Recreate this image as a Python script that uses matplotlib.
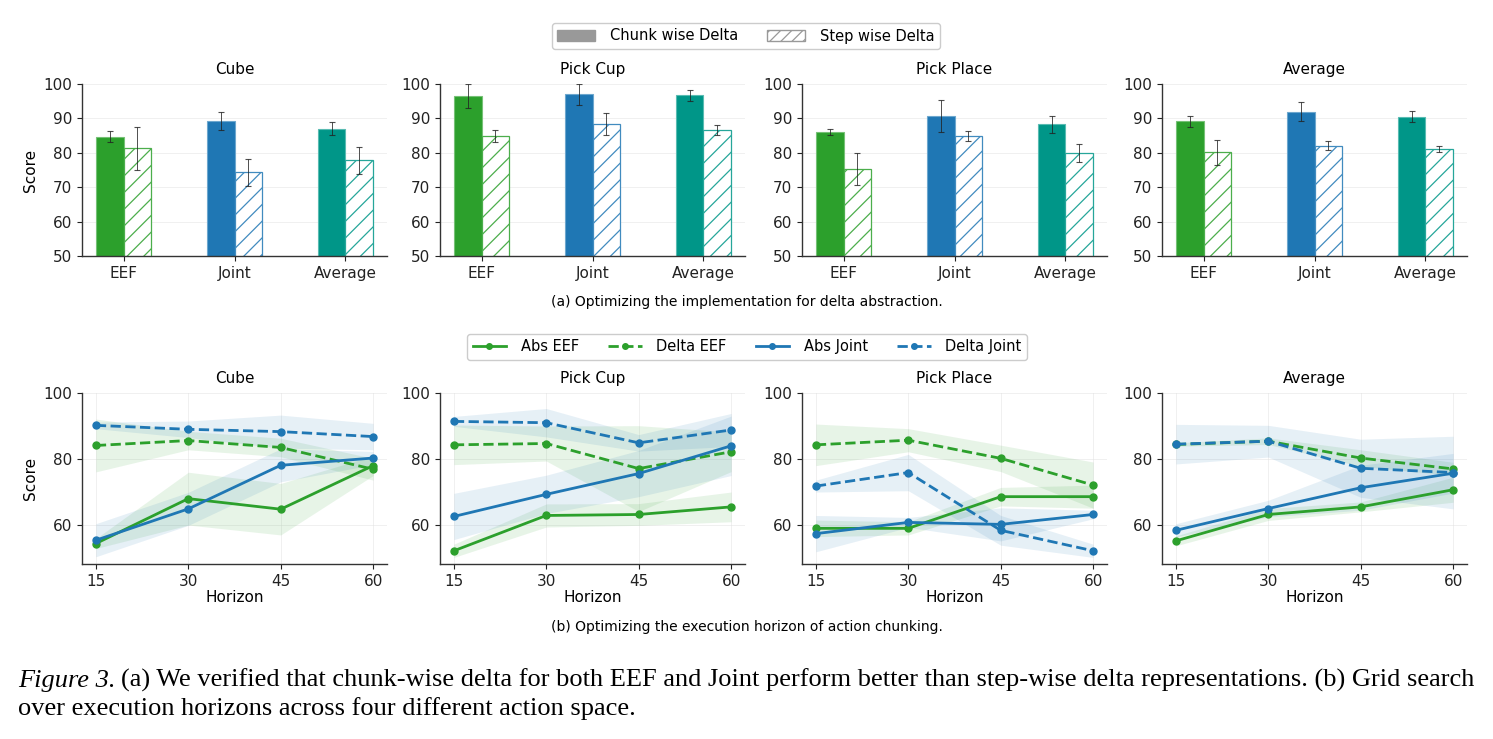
import numpy as np
import matplotlib
matplotlib.use("Agg")
import matplotlib.pyplot as plt
import matplotlib.colors as mc
from matplotlib.patches import Patch
from matplotlib.lines import Line2D

# ---------------- data ----------------
tasks = ["Cube", "Pick Cup", "Pick Place", "Average"]
groups = ["EEF", "Joint", "Average"]

# (a) bar chart: chunk-wise vs step-wise delta (mean, err) per task, per group
chunk_mean = {
    "Cube":       [84.7, 89.2, 87.0],
    "Pick Cup":   [96.5, 97.0, 96.8],
    "Pick Place": [86.0, 90.7, 88.3],
    "Average":    [89.1, 92.0, 90.5],
}
chunk_err = {
    "Cube":       [1.5, 2.6, 1.9],
    "Pick Cup":   [3.4, 3.0, 1.6],
    "Pick Place": [0.95, 4.6, 2.4],
    "Average":    [1.65, 2.8, 1.6],
}
step_mean = {
    "Cube":       [81.3, 74.3, 77.8],
    "Pick Cup":   [84.9, 88.4, 86.6],
    "Pick Place": [75.2, 84.9, 79.9],
    "Average":    [80.1, 82.1, 81.2],
}
step_err = {
    "Cube":       [6.3, 4.0, 4.0],
    "Pick Cup":   [1.8, 3.3, 1.5],
    "Pick Place": [4.6, 1.5, 2.6],
    "Average":    [3.6, 1.2, 0.9],
}

# (b) line chart: execution horizon
horizons = [15, 30, 45, 60]
series_names = ["Abs EEF", "Delta EEF", "Abs Joint", "Delta Joint"]
line_mean = {
    "Cube": {
        "Abs EEF":     [54.4, 68.0, 64.8, 78.0],
        "Delta EEF":   [84.1, 85.6, 83.5, 76.9],
        "Abs Joint":   [55.4, 64.9, 78.1, 80.3],
        "Delta Joint": [90.2, 89.0, 88.3, 86.8],
    },
    "Pick Cup": {
        "Abs EEF":     [52.2, 62.9, 63.2, 65.5],
        "Delta EEF":   [84.3, 84.7, 77.1, 82.2],
        "Abs Joint":   [62.6, 69.3, 75.6, 84.0],
        "Delta Joint": [91.4, 91.0, 84.9, 88.8],
    },
    "Pick Place": {
        "Abs EEF":     [59.0, 59.0, 68.6, 68.6],
        "Delta EEF":   [84.3, 85.7, 80.2, 72.1],
        "Abs Joint":   [57.4, 60.8, 60.2, 63.2],
        "Delta Joint": [71.8, 75.9, 58.4, 52.2],
    },
    "Average": {
        "Abs EEF":     [55.2, 63.2, 65.5, 70.7],
        "Delta EEF":   [84.4, 85.4, 80.3, 77.0],
        "Abs Joint":   [58.4, 65.0, 71.3, 75.7],
        "Delta Joint": [84.5, 85.4, 77.2, 75.9],
    },
}
line_std = {
    "Cube": {
        "Abs EEF":     [1.5, 8.0, 7.8, 3.0],
        "Delta EEF":   [8.0, 2.8, 2.8, 3.3],
        "Abs Joint":   [5.0, 5.0, 5.0, 2.0],
        "Delta Joint": [1.0, 2.5, 5.0, 4.0],
    },
    "Pick Cup": {
        "Abs EEF":     [2.0, 3.5, 3.3, 4.5],
        "Delta EEF":   [6.0, 5.3, 13.0, 6.0],
        "Abs Joint":   [7.0, 5.8, 7.0, 9.0],
        "Delta Joint": [1.5, 4.3, 2.5, 5.0],
    },
    "Pick Place": {
        "Abs EEF":     [2.5, 2.0, 2.8, 3.5],
        "Delta EEF":   [6.3, 3.5, 4.0, 7.0],
        "Abs Joint":   [5.5, 1.5, 5.0, 1.3],
        "Delta Joint": [1.8, 5.5, 4.5, 2.0],
    },
    "Average": {
        "Abs EEF":     [1.5, 1.8, 1.5, 3.8],
        "Delta EEF":   [0.5, 1.0, 2.5, 2.0],
        "Abs Joint":   [2.0, 2.5, 6.8, 6.0],
        "Delta Joint": [6.0, 4.8, 8.8, 11.0],
    },
}

# ---------------- style ----------------
GREEN = "#2ca02c"
BLUE = "#1f77b4"
TEAL = "#009688"
group_colors = [GREEN, BLUE, TEAL]
series_style = {
    "Abs EEF":     (GREEN, "-"),
    "Delta EEF":   (GREEN, "--"),
    "Abs Joint":   (BLUE, "-"),
    "Delta Joint": (BLUE, "--"),
}

plt.rcParams["font.family"] = ["DejaVu Sans"]
plt.rcParams["hatch.linewidth"] = 0.9

W, H = 1493, 739
fig = plt.figure(figsize=(W / 100, H / 100), dpi=100)


def fx(px):
    return px / W


def fy(py):
    return 1 - py / H


lefts = [82, 440, 802, 1162]
aw = 305


def lighten(c, amt):
    r, g, b = mc.to_rgb(c)
    return (r + (1 - r) * amt, g + (1 - g) * amt, b + (1 - b) * amt)


def style_axes(ax, gridaxis):
    ax.spines["top"].set_visible(False)
    ax.spines["right"].set_visible(False)
    for s in ("left", "bottom"):
        ax.spines[s].set_color("#333333")
        ax.spines[s].set_linewidth(1.0)
    ax.grid(True, axis=gridaxis, color="#dddddd", linewidth=0.6, alpha=0.5)
    ax.set_axisbelow(True)
    ax.tick_params(labelsize=11, colors="#222222", length=3.5, width=0.8)


# ---- top row: bars ----
x = np.arange(len(groups))
bw = 0.25
ekw = dict(ecolor="#222222", elinewidth=0.7, capsize=2, capthick=0.8, alpha=0.8)
for i, t in enumerate(tasks):
    ax = fig.add_axes([fx(lefts[i]), fy(256), fx(aw), fy(84) - fy(256)])
    for j, c in enumerate(group_colors):
        ax.bar(x[j] - bw / 2, chunk_mean[t][j], bw, yerr=chunk_err[t][j],
               color=c, edgecolor=lighten(c, 0.35), linewidth=0.8,
               error_kw=ekw, zorder=2)
        ax.bar(x[j] + bw / 2, step_mean[t][j], bw, yerr=step_err[t][j],
               facecolor="white", edgecolor=lighten(c, 0.15), hatch="//",
               linewidth=0.9, error_kw=ekw, zorder=2)
    ax.set_ylim(50, 100)
    ax.set_yticks(np.arange(50, 101, 10))
    ax.set_xticks(x)
    ax.set_xticklabels(groups)
    ax.set_title(t, fontsize=11, pad=7)
    style_axes(ax, "y")
    if i == 0:
        ax.set_ylabel("Score", fontsize=11)

bar_handles = [
    Patch(facecolor="#999999", edgecolor="#999999", label="Chunk wise Delta"),
    Patch(facecolor="white", edgecolor="#999999", hatch="///", label="Step wise Delta"),
]
fig.legend(handles=bar_handles, loc="center", bbox_to_anchor=(fx(746), fy(36)),
           ncol=2, fontsize=10.5, frameon=True, framealpha=1,
           edgecolor="#cccccc", handlelength=2.6, columnspacing=2.0,
           borderpad=0.4, handletextpad=1.0)

fig.text(fx(747), fy(302), "(a) Optimizing the implementation for delta abstraction.",
         ha="center", va="center", fontsize=10)

# ---- bottom row: lines ----
for i, t in enumerate(tasks):
    ax = fig.add_axes([fx(lefts[i]), fy(564), fx(aw), fy(393) - fy(564)])
    for name in series_names:
        c, ls = series_style[name]
        m = np.array(line_mean[t][name])
        s = np.array(line_std[t][name])
        ax.fill_between(horizons, m - s, m + s, color=c, alpha=0.11, linewidth=0)
        ax.plot(horizons, m, color=c, linestyle=ls, marker="o", markersize=5,
                linewidth=2.0, label=name)
    ax.set_ylim(48.2, 100)
    ax.set_yticks([60, 80, 100])
    ax.set_xticks(horizons)
    ax.set_title(t, fontsize=11, pad=7)
    ax.set_xlabel("Horizon", fontsize=11, labelpad=1)
    style_axes(ax, "both")
    if i == 0:
        ax.set_ylabel("Score", fontsize=11)

line_handles = [Line2D([0], [0], color=series_style[n][0], linestyle=series_style[n][1],
                       marker="o", markersize=4, linewidth=2.0, label=n)
                for n in series_names]
fig.legend(handles=line_handles, loc="center", bbox_to_anchor=(fx(747), fy(347)),
           ncol=4, fontsize=10.5, frameon=True, framealpha=1,
           edgecolor="#cccccc", handlelength=2.3, columnspacing=2.0,
           borderpad=0.4, handletextpad=1.0)

fig.text(fx(747), fy(627), "(b) Optimizing the execution horizon of action chunking.",
         ha="center", va="center", fontsize=10)

# ---- figure caption ----
serif = ["Liberation Serif", "DejaVu Serif"]
CAP_FS = 19.0
t1 = fig.text(fx(18), fy(687), "Figure 3.", family=serif, style="italic",
              fontsize=CAP_FS, ha="left", va="baseline")
fig.text(0, 0, "")  # placeholder keeps text list simple
fig.texts[-1].set_visible(False)
fig.add_artist(plt.Annotation(
    "(a) We verified that chunk-wise delta for both EEF and Joint perform better "
    "than step-wise delta representations. (b) Grid search",
    xy=(1, 0), xycoords=t1, xytext=(4, 0), textcoords="offset points",
    family=serif, fontsize=CAP_FS, ha="left", va="bottom",
    annotation_clip=False))
fig.text(fx(18), fy(715), "over execution horizons across four different action space.",
         family=serif, fontsize=CAP_FS, ha="left", va="baseline")

fig.savefig("out.png", dpi=100)
